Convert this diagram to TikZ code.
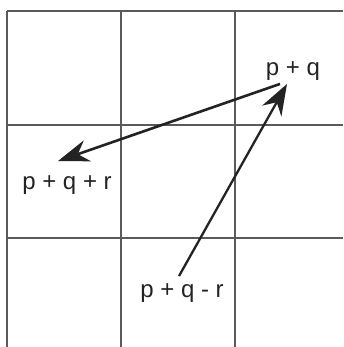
\documentclass[tikz,border=0pt]{standalone}
\usepackage{fontspec}
\setmainfont{Liberation Sans}
\usepackage{tikz}
\usetikzlibrary{arrows.meta}
\definecolor{gridgray}{RGB}{90,90,90}
\definecolor{inkgray}{RGB}{35,35,35}

\begin{document}
\begin{tikzpicture}[x=1pt,y=-1pt]
\useasboundingbox (0,0) rectangle (343,347);
% Grid of cells
\foreach \x in {7,121,235} \draw[gridgray, line width=1.4pt] (\x,11) -- (\x,347);
\foreach \y in {11,125,238} \draw[gridgray, line width=1.4pt] (7,\y) -- (343,\y);

% Labels
\node[text=inkgray, font=\fontsize{24}{28}\selectfont] (pq) at (293,71) {p + q};
\node[text=inkgray, font=\fontsize{24}{28}\selectfont] (pqr) at (67,185) {p + q + r};
\node[text=inkgray, font=\fontsize{24}{28}\selectfont] (pqmr) at (182,293) {p + q - r};

% Arrows
\draw[-{Stealth[length=31pt,width=22pt,inset=10pt]}, inkgray, line width=2.6pt] ([xshift=-13pt,yshift=0pt]pq.south) -- ([xshift=-9pt,yshift=11pt]pqr.north);
\draw[-{Stealth[length=31pt,width=22pt,inset=10pt]}, inkgray, line width=2.3pt] ([xshift=-3pt,yshift=4pt]pqmr.north) -- ([xshift=-6pt,yshift=0pt]pq.south);
\end{tikzpicture}
\end{document}
